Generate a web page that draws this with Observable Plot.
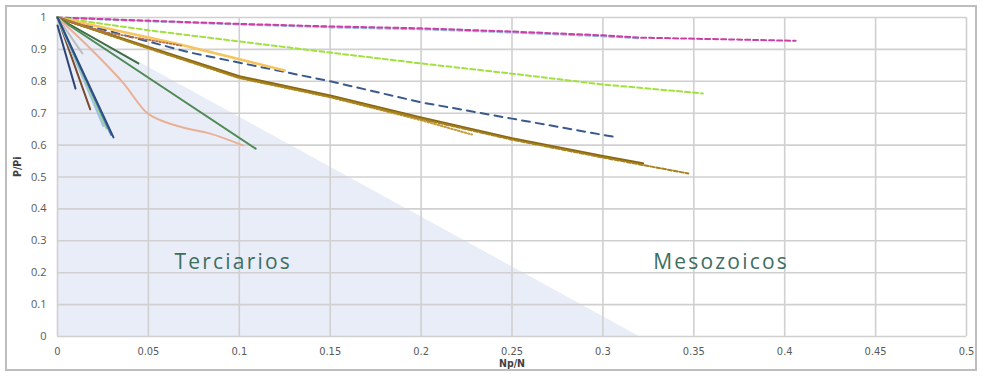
<!DOCTYPE html>
<html>
<head>
<meta charset="utf-8">
<script src="https://cdn.jsdelivr.net/npm/d3@7"></script>
<script src="https://cdn.jsdelivr.net/npm/@observablehq/plot@0.6"></script>
<style>
  html, body { margin: 0; padding: 0; background: #fff; }
  #wrap { position: relative; width: 983px; height: 376px; }
  #border { position: absolute; left: 5px; top: 5px; width: 972px; height: 366px;
            border: 2px solid #bdbdbd; pointer-events: none; box-sizing: border-box; }
</style>
</head>
<body>
<div id="wrap"><div id="border"></div></div>
<script>
// ---- data ----
const xTicks = [0, 0.05, 0.1, 0.15, 0.2, 0.25, 0.3, 0.35, 0.4, 0.45, 0.5];
const yTicks = [0, 0.1, 0.2, 0.3, 0.4, 0.5, 0.6, 0.7, 0.8, 0.9, 1];

// shaded "Terciarios" region (triangle)
const shadeX = [0, 0.32];
const shadeY = [1, 0];

const regionLabels = ["Terciarios", "Mesozoicos"];
const regionX = [0.0967, 0.365];
const regionY = [0.232, 0.232];

// Mesozoic wells
const lightBlueDashed = [[0, 1], [0.05, 0.988], [0.1, 0.978], [0.15, 0.969], [0.2, 0.963], [0.25, 0.953], [0.3, 0.941], [0.32, 0.935]];
const magentaDashed = [[0, 1], [0.05, 0.99], [0.1, 0.98], [0.15, 0.972], [0.2, 0.966], [0.25, 0.956], [0.3, 0.944], [0.32, 0.937], [0.406, 0.927]];
const greenDashed = [[0, 1], [0.05, 0.96], [0.1, 0.925], [0.15, 0.89], [0.2, 0.856], [0.25, 0.824], [0.3, 0.79], [0.355, 0.762]];
const blueDashed = [[0, 1], [0.073, 0.89], [0.15, 0.80], [0.2, 0.734], [0.25, 0.683], [0.308, 0.624]];
const yellowSolid = [[0, 1], [0.064, 0.92], [0.125, 0.834]];
const goldDotted = [[0, 1], [0.05, 0.903], [0.1, 0.81], [0.15, 0.75], [0.2, 0.678], [0.228, 0.633]];
const brownSolid = [[0, 1], [0.05, 0.907], [0.1, 0.815], [0.15, 0.755], [0.2, 0.686], [0.25, 0.621], [0.3, 0.565], [0.322, 0.542]];
const goldDashed = [[0, 1], [0.05, 0.904], [0.1, 0.811], [0.15, 0.751], [0.2, 0.682], [0.25, 0.617], [0.3, 0.561], [0.347, 0.511]];
const redDotted = [[0, 1], [0.027, 0.953], [0.068, 0.912]];

// Tertiary wells
const darkGreenShort = [[0, 1], [0.0445, 0.856]];
const greenLong = [[0, 1], [0.109, 0.589]];
const salmonCurve = [[0, 1], [0.018, 0.903], [0.036, 0.796], [0.049, 0.702], [0.057, 0.677], [0.069, 0.655], [0.084, 0.636], [0.102, 0.599]];
const grayShort = [[0, 1], [0.0137, 0.887]];
const navySteep = [[0, 0.975], [0.0099, 0.777]];
const brownSteep = [[0, 1], [0.018, 0.712]];
const lightBlueShort = [[0, 1], [0.0154, 0.81]];
const lightBlueSteep = [[0, 1], [0.0253, 0.661]];
const paleGreenSteep = [[0, 1], [0.027, 0.652]];
const blueSteep = [[0, 1], [0.0295, 0.632]];
const navySteep2 = [[0, 1], [0.0308, 0.624]];

// ---- styles (kept separate from the data) ----
const seriesList = [
  {d: lightBlueDashed, stroke: "#93bbe3", w: 2, dash: "5,3"},
  {d: magentaDashed, stroke: "#cc3ea5", w: 2, dash: "5,3"},
  {d: greenDashed, stroke: "#a2e040", w: 2, dash: "5,3"},
  {d: blueDashed, stroke: "#3b5a8c", w: 2, dash: "8,6"},
  {d: yellowSolid, stroke: "#f6c55e", w: 2.5},
  {d: goldDotted, stroke: "#c49a3a", w: 2, dash: "1.5,2"},
  {d: brownSolid, stroke: "#8a6712", w: 2.5},
  {d: goldDashed, stroke: "#a6831f", w: 2, dash: "4,2"},
  {d: redDotted, stroke: "#b8714a", w: 1.8, dash: "1.5,2"},
  {d: darkGreenShort, stroke: "#3f6e45", w: 2},
  {d: greenLong, stroke: "#4f8a55", w: 2},
  {d: salmonCurve, stroke: "#e9b096", w: 2, curve: "catmull-rom"},
  {d: grayShort, stroke: "#bcbcbc", w: 2},
  {d: navySteep, stroke: "#2f4577", w: 2},
  {d: brownSteep, stroke: "#7b4a2e", w: 2},
  {d: lightBlueShort, stroke: "#9bc2e6", w: 2},
  {d: lightBlueSteep, stroke: "#9bc2e6", w: 2.5},
  {d: paleGreenSteep, stroke: "#a9d18e", w: 2},
  {d: blueSteep, stroke: "#4a7fb5", w: 2},
  {d: navySteep2, stroke: "#2c4f80", w: 2}
];

const shade = shadeX.map((x, i) => ({x, y: shadeY[i]}));
const regions = regionLabels.map((t, i) => ({t, x: regionX[i], y: regionY[i]}));
const fmt = d => String(+d.toFixed(2));
const gridColor = "#d0d0d0";

const chart = Plot.plot({
  width: 983,
  height: 376,
  marginLeft: 57,
  marginRight: 17,
  marginTop: 17,
  marginBottom: 40,
  style: {fontFamily: "'Liberation Sans Narrow', 'DejaVu Sans Condensed', sans-serif", fontSize: "11px", color: "#595959", background: "transparent"},
  x: {domain: [0, 0.5], ticks: xTicks, tickFormat: fmt, label: null},
  y: {domain: [0, 1], ticks: yTicks, tickFormat: fmt, label: null},
  marks: [
    Plot.areaY(shade, {x: "x", y: "y", fill: "#e9edf8"}),
    Plot.gridX(xTicks, {stroke: gridColor, strokeOpacity: 1, strokeWidth: 1.6}),
    Plot.gridY(yTicks, {stroke: gridColor, strokeOpacity: 1, strokeWidth: 1.6}),
    Plot.axisX(xTicks, {tickSize: 0, tickPadding: 11, tickFormat: fmt, fill: "#595959", fontSize: 11}),
    Plot.axisY(yTicks, {tickSize: 0, tickPadding: 11, tickFormat: fmt, fill: "#595959", fontSize: 11, fontFamily: "'Open Sans', sans-serif"}),
    ...seriesList.map(s => Plot.line(s.d, {
      x: d => d[0], y: d => d[1],
      stroke: s.stroke, strokeWidth: s.w,
      strokeDasharray: s.dash,
      curve: s.curve || "linear"
    })),
    Plot.text(regions, {x: "x", y: "y", text: "t", fill: "#3d6e5f", fontSize: 21, fontFamily: "'Open Sans', sans-serif"}),
    Plot.text(["Np/N"], {frameAnchor: "bottom", dy: 30, text: d => d, fill: "#404040", fontSize: 10.5, fontWeight: "bold"}),
    Plot.text(["P/Pi"], {frameAnchor: "left", dx: -40, rotate: -90, text: d => d, fill: "#404040", fontSize: 10.5, fontWeight: "bold"})
  ]
});
// widen the region labels' tracking to match the reference
d3.select(chart).selectAll("text")
  .filter(function() { return regionLabels.includes(this.textContent); })
  .style("letter-spacing", "2.2px");
document.getElementById("wrap").prepend(chart);
</script>
</body>
</html>
